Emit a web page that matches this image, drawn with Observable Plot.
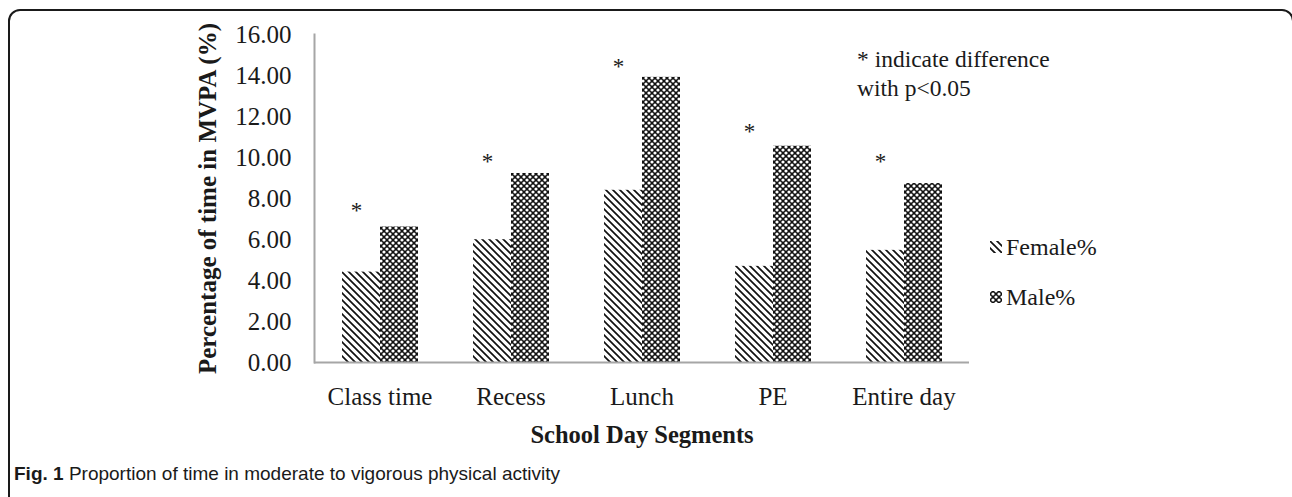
<!DOCTYPE html>
<html><head><meta charset="utf-8">
<script src="https://cdn.jsdelivr.net/npm/d3@7"></script>
<script src="https://cdn.jsdelivr.net/npm/@observablehq/plot@0.6"></script>
<style>
body{margin:0;background:#fff;}
#wrap{position:relative;width:1292px;height:497px;overflow:hidden;background:#fff;}
#box{position:absolute;left:8px;top:9px;width:1286px;height:620px;border:2px solid #1a1a1a;border-radius:12px;box-sizing:border-box;}
#chart{position:absolute;left:0;top:0;}
.serif{font-family:"Liberation Serif","Times New Roman",serif;color:#1a1a1a;}
#note{position:absolute;left:857px;top:45px;line-height:29px;font-size:23.5px;}
#legend{position:absolute;left:990px;top:222px;font-size:24px;}
#legend div{display:flex;align-items:center;height:50px;}
#legend svg{margin-right:4px;}
#caption{position:absolute;left:14px;top:463px;font-family:"Liberation Sans",Arial,sans-serif;font-size:19px;color:#1a1a1a;}
</style></head>
<body>
<div id="wrap">
  <div id="box"></div>
  <div id="chart"></div>
  <div id="note" class="serif">* indicate difference<br>with p&lt;0.05</div>
  <div id="legend" class="serif"></div>
  <div id="caption"><b>Fig. 1</b> Proportion of time in moderate to vigorous physical activity</div>
</div>
<script>
const segments = ["Class time", "Recess", "Lunch", "PE", "Entire day"];
const groups = ["Female%", "Male%"];
const female = [4.41, 5.99, 8.40, 4.69, 5.47];
const male = [6.61, 9.22, 13.91, 10.55, 8.73];
const starY = [7.62, 9.97, 14.62, 11.48, 9.97];
const yTicks = [0, 2, 4, 6, 8, 10, 12, 14, 16];

const femaleRows = segments.map((s, i) => ({segment: s, sex: groups[0], value: female[i]}));
const maleRows = segments.map((s, i) => ({segment: s, sex: groups[1], value: male[i]}));
const starRows = segments.map((s, i) => ({segment: s, sex: groups[0], value: starY[i]}));

const axisGray = "#a6a6a6";
const chart = Plot.plot({
  width: 1292, height: 460,
  marginLeft: 314, marginRight: 323, marginTop: 34, marginBottom: 98,
  style: {fontFamily: '"Liberation Serif","Times New Roman",serif', fontSize: "25px", color: "#1a1a1a", background: "transparent", overflow: "visible"},
  fx: {domain: segments, padding: 0, label: null},
  x: {domain: groups, paddingInner: 0, paddingOuter: 0.72, axis: null},
  y: {domain: [0, 16], label: null},
  marks: [
    Plot.barY(femaleRows, {fx: "segment", x: "sex", y: "value", fill: "url(#pf)"}),
    Plot.barY(maleRows, {fx: "segment", x: "sex", y: "value", fill: "url(#pm)"}),
    Plot.ruleY([0], {stroke: axisGray, strokeWidth: 2}),
    Plot.frame({anchor: "left", facetAnchor: "left", stroke: axisGray, strokeWidth: 2}),
    Plot.text(starRows, {fx: "segment", x: "sex", y: "value", text: () => "*", dx: -5, dy: 4, fontSize: 23}),
    Plot.axisY({ticks: yTicks, tickSize: 0, tickPadding: 23, tickFormat: d => d.toFixed(2), label: null, labelArrow: "none"}),
    Plot.axisY({ticks: [], tickSize: 0, label: "Percentage of time in MVPA (%)", labelAnchor: "center", labelArrow: "none", labelOffset: 116, dy: 10, fontWeight: "bold", fontSize: 25}),
    Plot.axisFx({anchor: "bottom", tickSize: 0, tickPadding: 25, label: null}),
    Plot.axisFx({anchor: "bottom", ticks: [], tickSize: 0, label: "School Day Segments", labelAnchor: "center", labelArrow: "none", labelOffset: 80, fontWeight: "bold", fontSize: 24.5})
  ]
});

// patterns
const svg = d3.select(chart);
const defs = svg.insert("defs", ":first-child");
const pf = defs.append("pattern").attr("id", "pf").attr("patternUnits", "userSpaceOnUse").attr("width", 7).attr("height", 7);
pf.append("rect").attr("width", 7).attr("height", 7).attr("fill", "#fff");
pf.append("path").attr("d", "M-1,-1L8,8M-1,6L1,8M6,-1L8,1").attr("stroke", "#111").attr("stroke-width", 1.7);
const pm = defs.append("pattern").attr("id", "pm").attr("patternUnits", "userSpaceOnUse").attr("width", 6).attr("height", 6);
pm.append("rect").attr("width", 6).attr("height", 6).attr("fill", "#111");
[[0,0],[6,0],[0,6],[6,6],[3,3]].forEach(([cx, cy]) => pm.append("circle").attr("cx", cx).attr("cy", cy).attr("r", 1.6).attr("fill", "#fff"));

document.getElementById("chart").appendChild(chart);

// legend
const legend = d3.select("#legend");
groups.forEach((g, i) => {
  const row = legend.append("div");
  const s = row.append("svg").attr("width", 12).attr("height", 12);
  s.append("rect").attr("width", 12).attr("height", 12).attr("fill", i === 0 ? "url(#pf)" : "url(#pm)");
  row.append("span").text(g);
});
</script>
</body></html>
